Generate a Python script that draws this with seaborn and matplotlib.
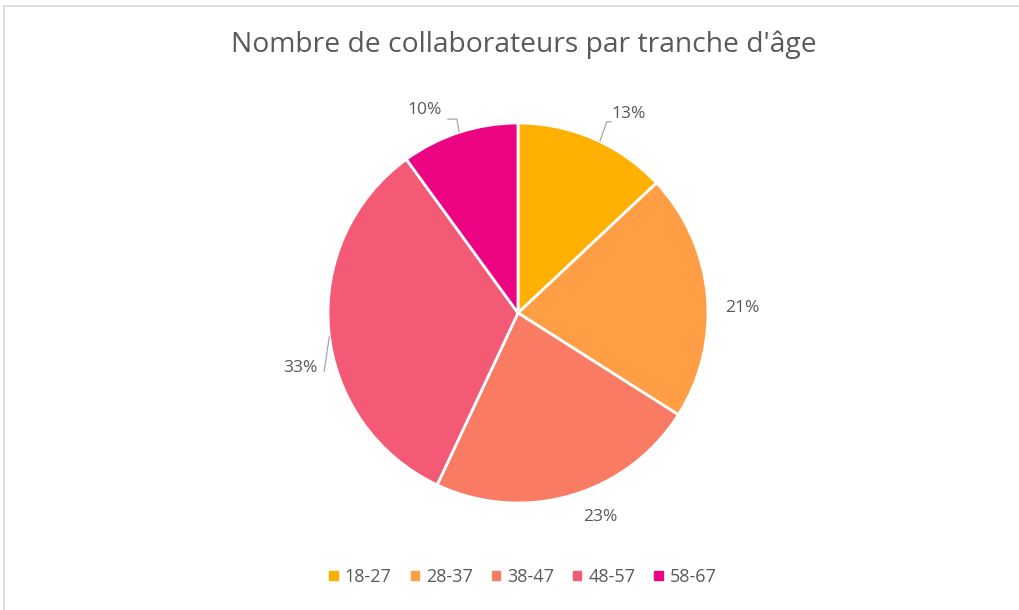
import matplotlib
matplotlib.use('Agg')

import matplotlib.pyplot as plt
import matplotlib.lines as mlines
import matplotlib.patches as mpatches
import seaborn as sns
import numpy as np

# data
tranches = ['18-27', '28-37', '38-47', '48-57', '58-67']
parts = [13, 21, 23, 33, 10]
couleurs = ['#FFB000', '#FF9E45', '#F97B63', '#F45A75', '#EC0482']

# label placement: (angle in degrees, distance in radii)
label_pos = [(61.0, 1.20), (1.3, 1.18), (-68.1, 1.157), (194.1, 1.183), (114.6, 1.175)]
# leader lines: start (angle, r), elbow (angle, r), horizontal tail length
leaders = {
    0: ((64.5, 1.0), (65.1, 1.11), 0.025),
    3: ((187.0, 1.0), (196.9, 1.067), 0.0),
    4: ((108.0, 1.0), (107.5, 1.07), -0.05),
}

sns.set_theme(style='white')
plt.rcParams['font.family'] = ['Open Sans', 'DejaVu Sans']
texte = '#595959'

fig = plt.figure(figsize=(10.19, 6.10), dpi=100)
fig.patch.set_facecolor('white')

# frame lines (only top and left visible in the screenshot)
fig.add_artist(mlines.Line2D([0.004, 1], [0.990, 0.990], color='#D9D9D9', lw=1.2, transform=fig.transFigure))
fig.add_artist(mlines.Line2D([0.004, 0.004], [0, 0.990], color='#D9D9D9', lw=1.2, transform=fig.transFigure))

r_px = 190
lim = 1.3
w = 2 * lim * r_px / 1019
h = 2 * lim * r_px / 610
cx, cy = 518 / 1019, 1 - 313 / 610
ax = fig.add_axes([cx - w / 2, cy - h / 2, w, h])

wedges, _ = ax.pie(parts, colors=couleurs, startangle=90, counterclock=False,
                   wedgeprops=dict(edgecolor='white', linewidth=2))
ax.set_xlim(-lim, lim)
ax.set_ylim(-lim, lim)
ax.set_aspect('equal')
ax.axis('off')


def polar(a, r):
    a = np.deg2rad(a)
    return r * np.cos(a), r * np.sin(a)


total = sum(parts)
for i, p in enumerate(parts):
    tx, ty = polar(*label_pos[i])
    ax.text(tx, ty, f'{round(100 * p / total)}%', ha='center', va='center',
            fontsize=12.5, color=texte)
    if i in leaders:
        start, elbow, tail = leaders[i]
        x0, y0 = polar(*start)
        x1, y1 = polar(*elbow)
        ax.plot([x0, x1, x1 + tail], [y0, y1, y1], color='#A6A6A6', lw=0.9,
                solid_capstyle='butt')

fig.text(524 / 1019, 1 - 45 / 610, "Nombre de collaborateurs par tranche d'âge",
         ha='center', va='center', fontsize=20.3, color=texte)

handles = [mpatches.Patch(color=c, label=t) for c, t in zip(couleurs, tranches)]
fig.legend(handles=handles, loc='center', bbox_to_anchor=(523 / 1019, 1 - 577 / 610),
           ncol=5, frameon=False, fontsize=13, labelcolor=texte,
           handlelength=0.45, handleheight=0.45, handletextpad=0.4, columnspacing=1.05)

fig.savefig('out.png', dpi=100, facecolor='white')
